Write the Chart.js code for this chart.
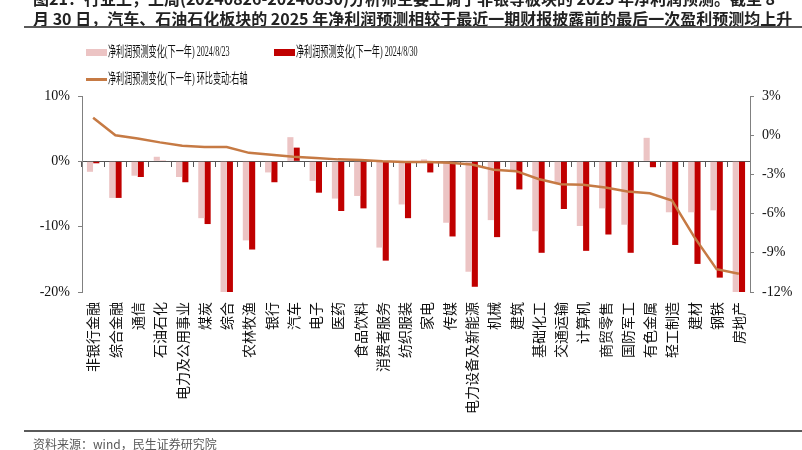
<!DOCTYPE html>
<html>
<head>
<meta charset="utf-8">
<script src="https://cdn.jsdelivr.net/npm/chart.js@4.4.1/dist/chart.umd.min.js"></script>
<style>
  body { margin: 0; width: 802px; height: 450px; background: #fff; position: relative; overflow: hidden; }
  #chart { position: absolute; left: 0; top: 0; }
  .titulo { position: absolute; left: 33px; top: -12px; width: 780px; font: bold 16px 'Noto Sans CJK SC', sans-serif; line-height: 20px; color: #222; white-space: nowrap; }
  .linha { position: absolute; left: 24px; right: 0; height: 2px; background: #5a5a5a; }
  .fonte { position: absolute; left: 33px; top: 435px; font: 12px 'Noto Sans CJK SC', sans-serif; color: #595959; white-space: nowrap; }
  .leg-box { position: absolute; width: 21px; }
  .leg-txt { position: absolute; font: 14px 'Liberation Serif', 'Noto Sans CJK SC', serif; color: #111; white-space: nowrap; transform: scaleX(0.58); transform-origin: left center; line-height: 16px; }
</style>
</head>
<body>
<canvas id="chart" width="802" height="450"></canvas>

<div class="titulo">图21：行业上，上周(20240826-20240830)分析师主要上调了非银等板块的 2025 年净利润预测。截至 8<br>月 30 日，汽车、石油石化板块的 2025 年净利润预测相较于最近一期财报披露前的最后一次盈利预测均上升</div>
<div class="linha" style="top:26px"></div>

<!-- legenda -->
<div class="leg-box" style="left:86px;top:49px;height:7px;background:#ecc4c4"></div>
<div class="leg-txt" style="left:108px;top:44px">净利润预测变化(下一年) 2024/8/23</div>
<div class="leg-box" style="left:274px;top:49px;height:7px;background:#c00000"></div>
<div class="leg-txt" style="left:296px;top:44px">净利润预测变化(下一年) 2024/8/30</div>
<div class="leg-box" style="left:86px;top:78px;height:3px;background:#c67a44"></div>
<div class="leg-txt" style="left:108px;top:71px">净利润预测变化(下一年) 环比变动:右轴</div>

<div class="linha" style="top:430px"></div>
<div class="fonte">资料来源：wind，民生证券研究院</div>

<script>
// dados (%)
const setores = ['非银行金融', '综合金融', '通信', '石油石化', '电力及公用事业', '煤炭', '综合', '农林牧渔', '银行', '汽车',
    '电子', '医药', '食品饮料', '消费者服务', '纺织服装', '家电', '传媒', '电力设备及新能源', '机械', '建筑',
    '基础化工', '交通运输', '计算机', '商贸零售', '国防军工', '有色金属', '轻工制造', '建材', '钢铁', '房地产'];

const previsao0823 = [-1.6, -5.6, -2.2, 0.7, -2.4, -8.7, -20.5, -12.1, -1.7, 3.7,
    -3.0, -5.7, -5.3, -13.2, -6.6, 0.3, -9.4, -16.9, -9.0, -1.4,
    -10.7, -3.5, -9.9, -7.2, -9.7, 3.6, -7.8, -7.8, -7.5, -21.0];

const previsao0830 = [-0.3, -5.6, -2.4, 0.1, -3.2, -9.6, -21.4, -13.5, -3.2, 2.1,
    -4.8, -7.6, -7.2, -15.2, -8.7, -1.7, -11.5, -19.2, -11.6, -4.3,
    -14.0, -7.3, -13.7, -11.2, -14.0, -0.9, -12.8, -15.7, -17.8, -31.6];

const variacao = [1.33, 0.0, -0.25, -0.55, -0.8, -0.9, -0.9, -1.35, -1.5, -1.65,
    -1.75, -1.85, -1.9, -2.0, -2.05, -2.05, -2.1, -2.25, -2.65, -2.75,
    -3.35, -3.75, -3.8, -4.0, -4.3, -4.45, -5.0, -7.8, -10.25, -10.6];

const ticksEsq = [10, 0, -10, -20];
const ticksDir = [3, 0, -3, -6, -9, -12];

const fonteNum = { family: 'Liberation Serif', size: 14 };
const corEixo = '#808080';

new Chart(document.getElementById('chart'), {
    type: 'bar',
    data: {
        labels: setores,
        datasets: [
            {
                type: 'line',
                label: '净利润预测变化(下一年) 环比变动:右轴',
                data: variacao,
                yAxisID: 'y1',
                borderColor: '#c67a44',
                borderWidth: 2.5,
                pointRadius: 0,
                tension: 0,
                order: 0
            },
            {
                label: '净利润预测变化(下一年) 2024/8/23',
                data: previsao0823,
                backgroundColor: '#ecc4c4',
                categoryPercentage: 0.566,
                barPercentage: 0.97,
                clip: 0,
                order: 1
            },
            {
                label: '净利润预测变化(下一年) 2024/8/30',
                data: previsao0830,
                backgroundColor: '#c00000',
                categoryPercentage: 0.566,
                barPercentage: 0.97,
                clip: 0,
                order: 1
            }
        ]
    },
    options: {
        responsive: false,
        animation: false,
        layout: { padding: { top: 96, left: 0, right: 0, bottom: 0 } },
        plugins: { legend: { display: false }, tooltip: { enabled: false } },
        scales: {
            x: {
                position: 'bottom',
                grid: { display: false, drawTicks: false },
                border: { display: false },
                ticks: {
                    autoSkip: false, minRotation: 90, maxRotation: 90, padding: 10,
                    color: '#111', font: { family: 'Noto Sans CJK SC', size: 14 }
                },
                afterFit: (s) => { s.height = 158; }
            },
            // linha do zero com as marcas entre categorias
            xZero: {
                type: 'category',
                labels: setores,
                position: { y: 0 },
                offset: true,
                grid: { offset: true, drawOnChartArea: false, tickLength: 5, color: '#555' },
                border: { display: true, color: '#555', width: 1 },
                ticks: { display: false }
            },
            y: {
                position: 'left',
                min: -20, max: 10,
                afterBuildTicks: (s) => { s.ticks = ticksEsq.map(v => ({ value: v })); },
                grid: { drawOnChartArea: false, tickLength: 4, color: corEixo },
                border: { color: corEixo },
                ticks: { padding: 8, color: '#111', font: fonteNum, callback: v => v + '%' },
                afterFit: (s) => { s.width = 82; }
            },
            y1: {
                position: 'right',
                min: -12, max: 3,
                afterBuildTicks: (s) => { s.ticks = ticksDir.map(v => ({ value: v })); },
                grid: { drawOnChartArea: false, tickLength: 4, color: corEixo },
                border: { color: corEixo },
                ticks: { padding: 8, color: '#111', font: fonteNum, callback: v => v + '%' },
                afterFit: (s) => { s.width = 52; }
            }
        }
    }
});
</script>
</body>
</html>
